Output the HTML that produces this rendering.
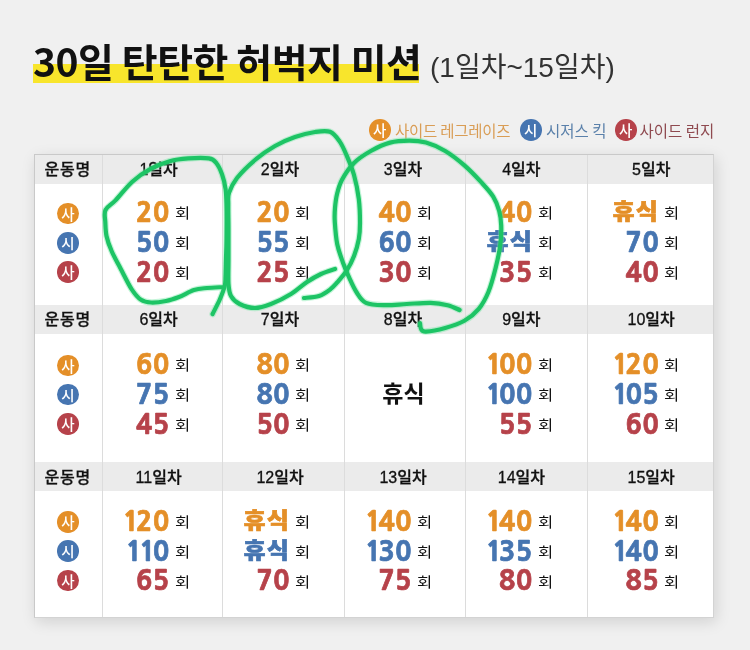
<!DOCTYPE html><html><head><meta charset="utf-8"><style>
*{margin:0;padding:0;box-sizing:border-box}
html,body{width:750px;height:650px;overflow:hidden;background:#f0f0f0}
body{position:relative;font-family:"Liberation Sans","Noto Sans CJK KR",sans-serif;color:#111}
.a{position:absolute;white-space:nowrap}
.kr{font-family:"Noto Sans CJK KR","Liberation Sans",sans-serif}
.title{left:33px;top:35px;font-size:39px;font-weight:700;letter-spacing:-0.5px;line-height:50px;color:#111}
.hl{left:33px;top:64px;width:386px;height:18.5px;background:#f8e52c}
.sub{left:430px;top:48px;font-size:28px;font-weight:400;line-height:40px;color:#333}
.lg{top:119px;height:22px;font-size:15.5px;line-height:22px}
.dot{display:inline-block;border-radius:50%;color:#fff;text-align:center}
.lgd{width:21.5px;height:21.5px;font-size:14.5px;line-height:21.5px;vertical-align:top;font-weight:500}
.tbl{left:34px;top:154px;width:680px;height:464px;background:#fff;border:1px solid #d3d3d3;border-left-color:#c9c9c9;border-top-color:#c9c9c9;box-shadow:2px 4px 14px rgba(0,0,0,0.13)}
.hd{background:#ebebeb}
.vl{width:1px;background:#dcdcdc}
.ht{-webkit-text-stroke:0.3px currentColor;font-family:"Liberation Sans","Noto Sans CJK KR",sans-serif;font-size:16px;line-height:29px;text-align:center;font-weight:500;color:#111}
.num{-webkit-text-stroke:0.7px currentColor;font-family:"NanumGothic","Noto Sans CJK KR",sans-serif;font-size:26.8px;font-weight:800;line-height:30px;text-align:right;letter-spacing:0.3px}
.one{font-family:"NanumGothic","Noto Sans CJK KR",sans-serif;font-weight:800;letter-spacing:-2.8px}
.hs{display:inline-block;transform:scaleX(1.1);transform-origin:100% 50%;font-family:"Noto Sans CJK KR",sans-serif;font-weight:900;font-size:21.5px;letter-spacing:1.2px;position:relative;top:-2.7px;margin-right:-0.5px}
.hoe{font-size:14px;line-height:30px;color:#111;transform:scaleX(1.18);transform-origin:0 0}
.cd{width:21.5px;height:21.5px;font-size:14.5px;line-height:21.5px;text-align:center;font-weight:500}
</style></head><body>
<div class="a hl"></div>
<div class="a title kr">30일 탄탄한 허벅지 미션</div>
<div class="a sub">(1일차~15일차)</div>
<div class="a lg kr" style="left:369px"><span class="dot lgd" style="background:#e48f28">사</span><span style="color:#d99d55;margin-left:4.5px;letter-spacing:-0.25px">사이드 레그레이즈</span></div>
<div class="a lg kr" style="left:520px"><span class="dot lgd" style="background:#4675b1">시</span><span style="color:#5a80aa;margin-left:4.5px;letter-spacing:0px">시저스 킥</span></div>
<div class="a lg kr" style="left:615px"><span class="dot lgd" style="background:#b6424a">사</span><span style="color:#8f4a50;margin-left:3px;letter-spacing:0px">사이드 런지</span></div>
<div class="a tbl"></div>
<div class="a hd" style="left:35px;top:155px;width:678px;height:29px"></div>
<div class="a hd" style="left:35px;top:305px;width:678px;height:29px"></div>
<div class="a hd" style="left:35px;top:462px;width:678px;height:29px"></div>
<div class="a vl" style="left:102px;top:155px;height:462px"></div>
<div class="a vl" style="left:222px;top:155px;height:462px"></div>
<div class="a vl" style="left:344px;top:155px;height:462px"></div>
<div class="a vl" style="left:465px;top:155px;height:462px"></div>
<div class="a vl" style="left:587px;top:155px;height:462px"></div>
<div class="a ht kr" style="left:34.2px;top:155px;width:67px;font-weight:500;letter-spacing:0.8px">운동명</div>
<div class="a dot cd kr" style="top:202.95px;left:57.25px;background:#e48f28">사</div>
<div class="a dot cd kr" style="top:232.15px;left:57.25px;background:#4675b1">시</div>
<div class="a dot cd kr" style="top:261.35px;left:57.25px;background:#b6424a">사</div>
<div class="a ht" style="left:98.6px;top:155px;width:120px">1일차</div>
<div class="a num" style="left:69.20px;top:197.80px;width:100px;color:#e48f28">20</div>
<div class="a hoe kr" style="left:174.70px;top:197.40px">회</div>
<div class="a num" style="left:69.20px;top:227.70px;width:100px;color:#4675b1">50</div>
<div class="a hoe kr" style="left:174.70px;top:227.30px">회</div>
<div class="a num" style="left:69.20px;top:257.60px;width:100px;color:#b6424a">20</div>
<div class="a hoe kr" style="left:174.70px;top:257.20px">회</div>
<div class="a ht" style="left:220px;top:155px;width:120px">2일차</div>
<div class="a num" style="left:189.50px;top:197.80px;width:100px;color:#e48f28">20</div>
<div class="a hoe kr" style="left:294.80px;top:197.40px">회</div>
<div class="a num" style="left:189.50px;top:227.70px;width:100px;color:#4675b1">55</div>
<div class="a hoe kr" style="left:294.80px;top:227.30px">회</div>
<div class="a num" style="left:189.50px;top:257.60px;width:100px;color:#b6424a">25</div>
<div class="a hoe kr" style="left:294.80px;top:257.20px">회</div>
<div class="a ht" style="left:343px;top:155px;width:120px">3일차</div>
<div class="a num" style="left:311.60px;top:197.80px;width:100px;color:#e48f28">40</div>
<div class="a hoe kr" style="left:416.70px;top:197.40px">회</div>
<div class="a num" style="left:311.60px;top:227.70px;width:100px;color:#4675b1">60</div>
<div class="a hoe kr" style="left:416.70px;top:227.30px">회</div>
<div class="a num" style="left:311.60px;top:257.60px;width:100px;color:#b6424a">30</div>
<div class="a hoe kr" style="left:416.70px;top:257.20px">회</div>
<div class="a ht" style="left:461.4px;top:155px;width:120px">4일차</div>
<div class="a num" style="left:432.20px;top:197.80px;width:100px;color:#e48f28">40</div>
<div class="a hoe kr" style="left:537.70px;top:197.40px">회</div>
<div class="a num" style="left:432.20px;top:227.70px;width:100px;color:#4675b1"><span class="hs">휴식</span></div>
<div class="a hoe kr" style="left:537.70px;top:227.30px">회</div>
<div class="a num" style="left:432.20px;top:257.60px;width:100px;color:#b6424a">35</div>
<div class="a hoe kr" style="left:537.70px;top:257.20px">회</div>
<div class="a ht" style="left:591.2px;top:155px;width:120px">5일차</div>
<div class="a num" style="left:558.70px;top:197.80px;width:100px;color:#e48f28"><span class="hs">휴식</span></div>
<div class="a hoe kr" style="left:663.60px;top:197.40px">회</div>
<div class="a num" style="left:558.70px;top:227.70px;width:100px;color:#4675b1">70</div>
<div class="a hoe kr" style="left:663.60px;top:227.30px">회</div>
<div class="a num" style="left:558.70px;top:257.60px;width:100px;color:#b6424a">40</div>
<div class="a hoe kr" style="left:663.60px;top:257.20px">회</div>
<div class="a ht kr" style="left:34.2px;top:305px;width:67px;font-weight:500;letter-spacing:0.8px">운동명</div>
<div class="a dot cd kr" style="top:354.75px;left:57.25px;background:#e48f28">사</div>
<div class="a dot cd kr" style="top:383.95px;left:57.25px;background:#4675b1">시</div>
<div class="a dot cd kr" style="top:413.15px;left:57.25px;background:#b6424a">사</div>
<div class="a ht" style="left:98.6px;top:305px;width:120px">6일차</div>
<div class="a num" style="left:69.20px;top:349.70px;width:100px;color:#e48f28">60</div>
<div class="a hoe kr" style="left:174.70px;top:349.30px">회</div>
<div class="a num" style="left:69.20px;top:379.60px;width:100px;color:#4675b1">75</div>
<div class="a hoe kr" style="left:174.70px;top:379.20px">회</div>
<div class="a num" style="left:69.20px;top:409.50px;width:100px;color:#b6424a">45</div>
<div class="a hoe kr" style="left:174.70px;top:409.10px">회</div>
<div class="a ht" style="left:220px;top:305px;width:120px">7일차</div>
<div class="a num" style="left:189.50px;top:349.70px;width:100px;color:#e48f28">80</div>
<div class="a hoe kr" style="left:294.80px;top:349.30px">회</div>
<div class="a num" style="left:189.50px;top:379.60px;width:100px;color:#4675b1">80</div>
<div class="a hoe kr" style="left:294.80px;top:379.20px">회</div>
<div class="a num" style="left:189.50px;top:409.50px;width:100px;color:#b6424a">50</div>
<div class="a hoe kr" style="left:294.80px;top:409.10px">회</div>
<div class="a ht" style="left:343px;top:305px;width:120px">8일차</div>
<div class="a kr" style="left:343px;top:376.5px;width:121px;text-align:center;font-size:23px;font-weight:700;line-height:30px;color:#111">휴식</div>
<div class="a ht" style="left:461.4px;top:305px;width:120px">9일차</div>
<div class="a num" style="left:432.20px;top:349.70px;width:100px;color:#e48f28"><span class="one">1</span>00</div>
<div class="a hoe kr" style="left:537.70px;top:349.30px">회</div>
<div class="a num" style="left:432.20px;top:379.60px;width:100px;color:#4675b1"><span class="one">1</span>00</div>
<div class="a hoe kr" style="left:537.70px;top:379.20px">회</div>
<div class="a num" style="left:432.20px;top:409.50px;width:100px;color:#b6424a">55</div>
<div class="a hoe kr" style="left:537.70px;top:409.10px">회</div>
<div class="a ht" style="left:591.2px;top:305px;width:120px">10일차</div>
<div class="a num" style="left:558.70px;top:349.70px;width:100px;color:#e48f28"><span class="one">1</span>20</div>
<div class="a hoe kr" style="left:663.60px;top:349.30px">회</div>
<div class="a num" style="left:558.70px;top:379.60px;width:100px;color:#4675b1"><span class="one">1</span>05</div>
<div class="a hoe kr" style="left:663.60px;top:379.20px">회</div>
<div class="a num" style="left:558.70px;top:409.50px;width:100px;color:#b6424a">60</div>
<div class="a hoe kr" style="left:663.60px;top:409.10px">회</div>
<div class="a ht kr" style="left:34.2px;top:462.5px;width:67px;font-weight:500;letter-spacing:0.8px">운동명</div>
<div class="a dot cd kr" style="top:511.15px;left:57.25px;background:#e48f28">사</div>
<div class="a dot cd kr" style="top:540.35px;left:57.25px;background:#4675b1">시</div>
<div class="a dot cd kr" style="top:569.55px;left:57.25px;background:#b6424a">사</div>
<div class="a ht" style="left:98.6px;top:462.5px;width:120px">11일차</div>
<div class="a num" style="left:69.20px;top:506.60px;width:100px;color:#e48f28"><span class="one">1</span>20</div>
<div class="a hoe kr" style="left:174.70px;top:506.20px">회</div>
<div class="a num" style="left:69.20px;top:536.50px;width:100px;color:#4675b1"><span class="one">1</span><span class="one">1</span>0</div>
<div class="a hoe kr" style="left:174.70px;top:536.10px">회</div>
<div class="a num" style="left:69.20px;top:566.40px;width:100px;color:#b6424a">65</div>
<div class="a hoe kr" style="left:174.70px;top:566.00px">회</div>
<div class="a ht" style="left:220px;top:462.5px;width:120px">12일차</div>
<div class="a num" style="left:189.50px;top:506.60px;width:100px;color:#e48f28"><span class="hs">휴식</span></div>
<div class="a hoe kr" style="left:294.80px;top:506.20px">회</div>
<div class="a num" style="left:189.50px;top:536.50px;width:100px;color:#4675b1"><span class="hs">휴식</span></div>
<div class="a hoe kr" style="left:294.80px;top:536.10px">회</div>
<div class="a num" style="left:189.50px;top:566.40px;width:100px;color:#b6424a">70</div>
<div class="a hoe kr" style="left:294.80px;top:566.00px">회</div>
<div class="a ht" style="left:343px;top:462.5px;width:120px">13일차</div>
<div class="a num" style="left:311.60px;top:506.60px;width:100px;color:#e48f28"><span class="one">1</span>40</div>
<div class="a hoe kr" style="left:416.70px;top:506.20px">회</div>
<div class="a num" style="left:311.60px;top:536.50px;width:100px;color:#4675b1"><span class="one">1</span>30</div>
<div class="a hoe kr" style="left:416.70px;top:536.10px">회</div>
<div class="a num" style="left:311.60px;top:566.40px;width:100px;color:#b6424a">75</div>
<div class="a hoe kr" style="left:416.70px;top:566.00px">회</div>
<div class="a ht" style="left:461.4px;top:462.5px;width:120px">14일차</div>
<div class="a num" style="left:432.20px;top:506.60px;width:100px;color:#e48f28"><span class="one">1</span>40</div>
<div class="a hoe kr" style="left:537.70px;top:506.20px">회</div>
<div class="a num" style="left:432.20px;top:536.50px;width:100px;color:#4675b1"><span class="one">1</span>35</div>
<div class="a hoe kr" style="left:537.70px;top:536.10px">회</div>
<div class="a num" style="left:432.20px;top:566.40px;width:100px;color:#b6424a">80</div>
<div class="a hoe kr" style="left:537.70px;top:566.00px">회</div>
<div class="a ht" style="left:591.2px;top:462.5px;width:120px">15일차</div>
<div class="a num" style="left:558.70px;top:506.60px;width:100px;color:#e48f28"><span class="one">1</span>40</div>
<div class="a hoe kr" style="left:663.60px;top:506.20px">회</div>
<div class="a num" style="left:558.70px;top:536.50px;width:100px;color:#4675b1"><span class="one">1</span>40</div>
<div class="a hoe kr" style="left:663.60px;top:536.10px">회</div>
<div class="a num" style="left:558.70px;top:566.40px;width:100px;color:#b6424a">85</div>
<div class="a hoe kr" style="left:663.60px;top:566.00px">회</div>
<svg class="a" style="left:0;top:0" width="750" height="650" viewBox="0 0 750 650"><g fill="none" stroke-linecap="round" stroke-linejoin="round"><g stroke="rgba(110,230,160,0.4)" stroke-width="6.5"><path d="M224.0 287.0 C221.2 287.2 212.0 287.5 207.0 288.0 C202.0 288.5 198.7 288.5 194.0 290.0 C189.3 291.5 183.7 295.2 179.0 297.0 C174.3 298.8 170.7 300.1 166.0 301.0 C161.3 301.9 155.2 302.7 151.0 302.5 C146.8 302.3 144.2 301.9 141.0 299.8 C137.8 297.7 135.3 294.7 131.9 289.6 C128.5 284.5 124.2 275.4 120.8 269.0 C117.4 262.6 114.0 256.5 111.6 251.0 C109.2 245.5 107.5 240.8 106.5 236.0 C105.5 231.2 105.5 226.3 105.3 222.0 C105.1 217.7 103.8 213.6 105.5 210.0 C107.2 206.4 111.0 205.1 115.5 200.4 C120.0 195.7 126.4 187.0 132.3 181.7 C138.2 176.4 144.8 172.1 151.0 168.7 C157.2 165.3 163.5 162.9 169.7 161.2 C175.9 159.5 181.8 158.9 188.3 158.4 C194.8 157.9 204.2 157.6 208.9 158.4 C213.6 159.2 214.1 160.3 216.3 163.0 C218.5 165.7 220.4 169.9 222.0 174.3 C223.6 178.7 224.8 183.9 225.6 189.2 C226.3 194.5 226.3 197.5 226.5 206.0 C226.7 214.5 226.6 231.3 226.5 240.0 C226.4 248.7 226.2 251.9 226.0 258.0 C225.8 264.1 225.7 272.0 225.5 276.7 C225.3 281.4 225.6 282.3 224.7 286.0 C223.8 289.7 222.0 294.3 220.0 299.0 C218.0 303.7 213.8 311.5 212.6 314.0"/><path d="M335.0 269.0 C332.7 269.8 325.7 271.8 321.0 274.0 C316.3 276.2 312.0 278.7 307.0 282.0 C302.0 285.3 297.0 290.3 291.0 294.0 C285.0 297.7 277.0 301.7 271.0 304.0 C265.0 306.3 260.2 308.0 255.0 308.0 C249.8 308.0 243.6 306.0 239.6 304.0 C235.6 302.0 232.8 299.3 231.0 296.0 C229.2 292.7 228.9 290.0 228.5 284.0 C228.1 278.0 228.5 269.0 228.5 260.0 C228.5 251.0 228.5 239.2 228.5 230.0 C228.5 220.8 228.2 211.2 228.3 205.0 C228.4 198.8 227.6 197.5 229.0 193.0 C230.4 188.5 232.7 183.5 237.0 178.0 C241.3 172.5 248.7 165.3 255.0 160.0 C261.3 154.7 268.3 149.8 275.0 146.0 C281.7 142.2 288.3 139.3 295.0 137.0 C301.7 134.7 309.2 132.9 315.0 132.0 C320.8 131.1 325.9 130.2 330.0 131.8 C334.1 133.4 336.8 137.4 339.6 141.4 C342.4 145.4 344.4 150.2 346.8 155.8 C349.2 161.4 352.0 167.8 354.0 175.0 C356.0 182.2 357.8 191.0 358.8 199.0 C359.8 207.0 360.0 216.3 360.0 223.0 C360.0 229.7 359.8 233.7 358.8 239.2 C357.8 244.7 356.0 250.8 354.0 256.0 C352.0 261.2 349.6 266.0 346.8 270.4 C344.0 274.8 340.0 279.2 337.2 282.4 C334.4 285.6 333.0 287.3 330.0 289.6 C327.0 291.9 323.3 294.6 319.0 296.0 C314.7 297.4 306.5 297.7 304.0 298.0"/><path d="M459.6 310.0 C457.6 309.2 452.4 306.4 447.6 305.2 C442.8 304.0 437.6 303.0 430.8 302.8 C424.0 302.6 414.4 303.6 406.8 304.0 C399.2 304.4 392.0 305.4 385.2 305.2 C378.4 305.0 370.8 305.0 366.0 302.8 C361.2 300.6 359.2 296.2 356.4 292.0 C353.6 287.8 351.4 282.4 349.2 277.6 C347.0 272.8 345.2 268.8 343.2 263.2 C341.2 257.6 338.6 250.9 337.2 244.0 C335.8 237.1 335.2 228.0 334.8 222.0 C334.4 216.0 334.6 212.6 335.0 208.0 C335.4 203.4 335.8 198.9 337.0 194.2 C338.2 189.5 339.2 185.0 342.0 179.8 C344.8 174.6 349.2 167.8 354.0 163.0 C358.8 158.2 364.8 154.4 370.8 151.0 C376.8 147.6 383.6 144.3 390.0 142.6 C396.4 140.9 403.2 140.6 409.2 140.6 C415.2 140.6 420.0 140.9 426.0 142.6 C432.0 144.3 438.8 147.2 445.2 151.0 C451.6 154.8 458.4 160.2 464.4 165.4 C470.4 170.6 476.4 177.0 481.2 182.2 C486.0 187.4 490.2 191.8 493.2 196.6 C496.2 201.4 497.9 206.2 499.2 211.0 C500.5 215.8 501.0 219.9 501.2 225.4 C501.4 230.9 501.3 236.9 500.4 244.0 C499.5 251.1 497.6 260.0 495.6 268.0 C493.6 276.0 491.2 285.2 488.4 292.0 C485.6 298.8 482.8 304.0 478.8 308.8 C474.8 313.6 470.0 317.6 464.4 320.8 C458.8 324.0 451.6 326.2 445.2 328.0 C438.8 329.8 430.0 331.4 426.0 331.6 C422.0 331.8 422.2 330.6 421.2 329.2 C420.2 327.8 420.2 324.2 420.0 323.2"/></g><g stroke="#1dc465" stroke-width="4.2"><path d="M224.0 287.0 C221.2 287.2 212.0 287.5 207.0 288.0 C202.0 288.5 198.7 288.5 194.0 290.0 C189.3 291.5 183.7 295.2 179.0 297.0 C174.3 298.8 170.7 300.1 166.0 301.0 C161.3 301.9 155.2 302.7 151.0 302.5 C146.8 302.3 144.2 301.9 141.0 299.8 C137.8 297.7 135.3 294.7 131.9 289.6 C128.5 284.5 124.2 275.4 120.8 269.0 C117.4 262.6 114.0 256.5 111.6 251.0 C109.2 245.5 107.5 240.8 106.5 236.0 C105.5 231.2 105.5 226.3 105.3 222.0 C105.1 217.7 103.8 213.6 105.5 210.0 C107.2 206.4 111.0 205.1 115.5 200.4 C120.0 195.7 126.4 187.0 132.3 181.7 C138.2 176.4 144.8 172.1 151.0 168.7 C157.2 165.3 163.5 162.9 169.7 161.2 C175.9 159.5 181.8 158.9 188.3 158.4 C194.8 157.9 204.2 157.6 208.9 158.4 C213.6 159.2 214.1 160.3 216.3 163.0 C218.5 165.7 220.4 169.9 222.0 174.3 C223.6 178.7 224.8 183.9 225.6 189.2 C226.3 194.5 226.3 197.5 226.5 206.0 C226.7 214.5 226.6 231.3 226.5 240.0 C226.4 248.7 226.2 251.9 226.0 258.0 C225.8 264.1 225.7 272.0 225.5 276.7 C225.3 281.4 225.6 282.3 224.7 286.0 C223.8 289.7 222.0 294.3 220.0 299.0 C218.0 303.7 213.8 311.5 212.6 314.0"/><path d="M335.0 269.0 C332.7 269.8 325.7 271.8 321.0 274.0 C316.3 276.2 312.0 278.7 307.0 282.0 C302.0 285.3 297.0 290.3 291.0 294.0 C285.0 297.7 277.0 301.7 271.0 304.0 C265.0 306.3 260.2 308.0 255.0 308.0 C249.8 308.0 243.6 306.0 239.6 304.0 C235.6 302.0 232.8 299.3 231.0 296.0 C229.2 292.7 228.9 290.0 228.5 284.0 C228.1 278.0 228.5 269.0 228.5 260.0 C228.5 251.0 228.5 239.2 228.5 230.0 C228.5 220.8 228.2 211.2 228.3 205.0 C228.4 198.8 227.6 197.5 229.0 193.0 C230.4 188.5 232.7 183.5 237.0 178.0 C241.3 172.5 248.7 165.3 255.0 160.0 C261.3 154.7 268.3 149.8 275.0 146.0 C281.7 142.2 288.3 139.3 295.0 137.0 C301.7 134.7 309.2 132.9 315.0 132.0 C320.8 131.1 325.9 130.2 330.0 131.8 C334.1 133.4 336.8 137.4 339.6 141.4 C342.4 145.4 344.4 150.2 346.8 155.8 C349.2 161.4 352.0 167.8 354.0 175.0 C356.0 182.2 357.8 191.0 358.8 199.0 C359.8 207.0 360.0 216.3 360.0 223.0 C360.0 229.7 359.8 233.7 358.8 239.2 C357.8 244.7 356.0 250.8 354.0 256.0 C352.0 261.2 349.6 266.0 346.8 270.4 C344.0 274.8 340.0 279.2 337.2 282.4 C334.4 285.6 333.0 287.3 330.0 289.6 C327.0 291.9 323.3 294.6 319.0 296.0 C314.7 297.4 306.5 297.7 304.0 298.0"/><path d="M459.6 310.0 C457.6 309.2 452.4 306.4 447.6 305.2 C442.8 304.0 437.6 303.0 430.8 302.8 C424.0 302.6 414.4 303.6 406.8 304.0 C399.2 304.4 392.0 305.4 385.2 305.2 C378.4 305.0 370.8 305.0 366.0 302.8 C361.2 300.6 359.2 296.2 356.4 292.0 C353.6 287.8 351.4 282.4 349.2 277.6 C347.0 272.8 345.2 268.8 343.2 263.2 C341.2 257.6 338.6 250.9 337.2 244.0 C335.8 237.1 335.2 228.0 334.8 222.0 C334.4 216.0 334.6 212.6 335.0 208.0 C335.4 203.4 335.8 198.9 337.0 194.2 C338.2 189.5 339.2 185.0 342.0 179.8 C344.8 174.6 349.2 167.8 354.0 163.0 C358.8 158.2 364.8 154.4 370.8 151.0 C376.8 147.6 383.6 144.3 390.0 142.6 C396.4 140.9 403.2 140.6 409.2 140.6 C415.2 140.6 420.0 140.9 426.0 142.6 C432.0 144.3 438.8 147.2 445.2 151.0 C451.6 154.8 458.4 160.2 464.4 165.4 C470.4 170.6 476.4 177.0 481.2 182.2 C486.0 187.4 490.2 191.8 493.2 196.6 C496.2 201.4 497.9 206.2 499.2 211.0 C500.5 215.8 501.0 219.9 501.2 225.4 C501.4 230.9 501.3 236.9 500.4 244.0 C499.5 251.1 497.6 260.0 495.6 268.0 C493.6 276.0 491.2 285.2 488.4 292.0 C485.6 298.8 482.8 304.0 478.8 308.8 C474.8 313.6 470.0 317.6 464.4 320.8 C458.8 324.0 451.6 326.2 445.2 328.0 C438.8 329.8 430.0 331.4 426.0 331.6 C422.0 331.8 422.2 330.6 421.2 329.2 C420.2 327.8 420.2 324.2 420.0 323.2"/></g></g></svg>
</body></html>
